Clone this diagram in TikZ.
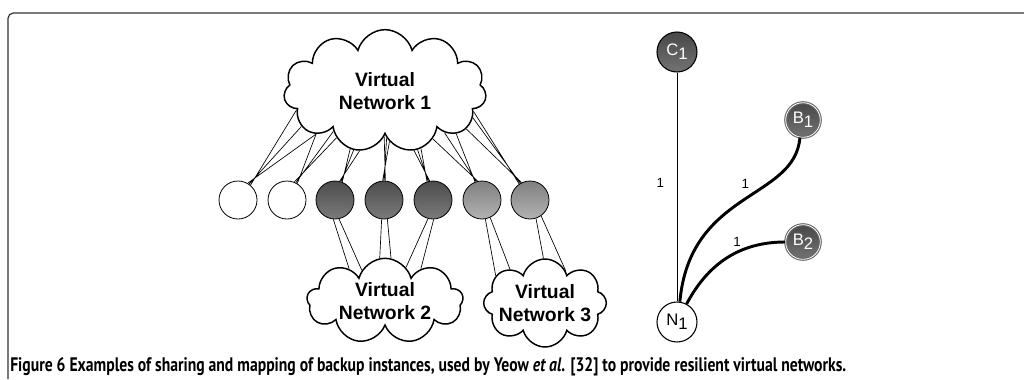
\documentclass[tikz,border=0pt]{standalone}
\usepackage{fontspec}
\setmainfont{Liberation Sans}
\newfontfamily\capfont{PT Sans}
\usetikzlibrary{shapes.symbols}
\newcommand{\idx}[1]{\raisebox{-0.45ex}{#1}}

\begin{document}
\begin{tikzpicture}[x=0.75pt, y=-0.75pt,
    vnet/.style={draw, line width=1.1pt, cloud, cloud ignores aspect, align=center,
      font=\bfseries\fontsize{14.5}{17}\selectfont},
    sub/.style={draw, circle, minimum size=28.5pt, inner sep=0pt, line width=0.6pt},
    darksub/.style={sub, top color=black!70, bottom color=black!52},
    lightsub/.style={sub, top color=black!50, bottom color=black!30},
    host/.style={draw, circle, minimum size=30pt, inner sep=0pt, line width=0.8pt,
      font=\fontsize{12.5}{13}\selectfont},
    backuphost/.style={host, top color=black!72, bottom color=black!55, text=white},
    link/.style={line width=0.5pt},
    backup/.style={line width=2.2pt},
    weight/.style={font=\fontsize{10}{11}\selectfont}
  ]
  \useasboundingbox (0,0) rectangle (1024,379);

  % frame
  \draw[black!80, line width=0.9pt, rounded corners=4pt] (8,379) -- (8,13) -- (1024,13);

  % virtual networks
  \node[vnet, cloud puffs=11, minimum width=152pt, minimum height=92pt, inner sep=1pt] (vn1) at (385,91) {Virtual\\Network 1};
  \node[vnet, cloud puffs=9, minimum width=117pt, minimum height=64pt, inner sep=0pt] (vn2) at (385,301) {Virtual\\Network 2};
  \node[vnet, cloud puffs=8, minimum width=92pt, minimum height=66pt, inner sep=-6pt] (vn3) at (545,303) {Virtual\\Network 3};

  % substrate nodes
  \node[sub, fill=white] (sub1) at (238,200) {};
  \node[sub, fill=white] (sub2) at (287,200) {};
  \node[darksub] (sub3) at (335,200) {};
  \node[darksub] (sub4) at (384,200) {};
  \node[darksub] (sub5) at (433,200) {};
  \node[lightsub] (sub6) at (482,200) {};
  \node[lightsub] (sub7) at (530,200) {};

  % mapping to virtual network 1
  \draw[link] (sub1.50) -- (vn1.192) (sub1.55) -- (vn1.203) (sub1.60) -- (vn1.212);
  \draw[link] (sub2.58) -- (vn1.212) (sub2.63) -- (vn1.218) (sub2.68) -- (vn1.224);
  \draw[link] (sub3.68) -- (vn1.239) (sub3.72) -- (vn1.242) (sub3.76) -- (vn1.247);
  \draw[link] (sub4.86) -- (vn1.269) (sub4.90) -- (vn1.272) (sub4.94) -- (vn1.275);
  \draw[link] (sub5.100) -- (vn1.296) (sub5.104) -- (vn1.299) (sub5.108) -- (vn1.302);
  \draw[link] (sub6.103) -- (vn1.315) (sub6.107) -- (vn1.325) (sub6.111) -- (vn1.329);
  \draw[link] (sub7.116) -- (vn1.335) (sub7.120) -- (vn1.343) (sub7.124) -- (vn1.347);

  % mapping to virtual networks 2 and 3
  \draw[link] (sub3.-95) -- (vn2.138) (sub3.-78) -- (vn2.127);
  \draw[link] (sub4.-97) -- (vn2.97) (sub4.-80) -- (vn2.82);
  \draw[link] (sub5.-105) -- (vn2.58) (sub5.-88) -- (vn2.42);
  \draw[link] (sub6.-80) -- (vn3.151) (sub6.-65) -- (vn3.136);
  \draw[link] (sub7.-72) -- (vn3.92) (sub7.-55) -- (vn3.57);

  % backup graph
  \node[backuphost] (c1) at (677,52) {C\idx{1}};
  \node[backuphost, draw=black!60, double=white, double distance=0.6pt, minimum size=26pt] (b1) at (803,120) {B\idx{1}};
  \node[backuphost, draw=black!60, double=white, double distance=0.6pt, minimum size=26pt] (b2) at (803,242) {B\idx{2}};
  \node[host, fill=white] (n1) at (677,322) {N\idx{1}};

  \draw[link, line width=0.7pt] (c1) -- node[weight, left=6pt, pos=0.48] {1} (n1);
  \draw[backup] (n1.82) .. controls (690,190) and (795,200) .. node[weight, above=3pt, pos=0.52] {1} (b1.-100);
  \draw[backup] (n1.62) to[out=62, in=180] node[weight, above, pos=0.6] {1} (b2.west);

  % caption
  \node[anchor=west, inner sep=0pt] (caption) at (10,367)
    {\scalebox{1}[1.25]{\resizebox{627pt}{!}{\capfont\bfseries Figure 6 Examples of sharing and mapping of backup instances, used by Yeow \textit{et al}. [32] to provide resilient virtual networks.}}};
\end{tikzpicture}
\end{document}
